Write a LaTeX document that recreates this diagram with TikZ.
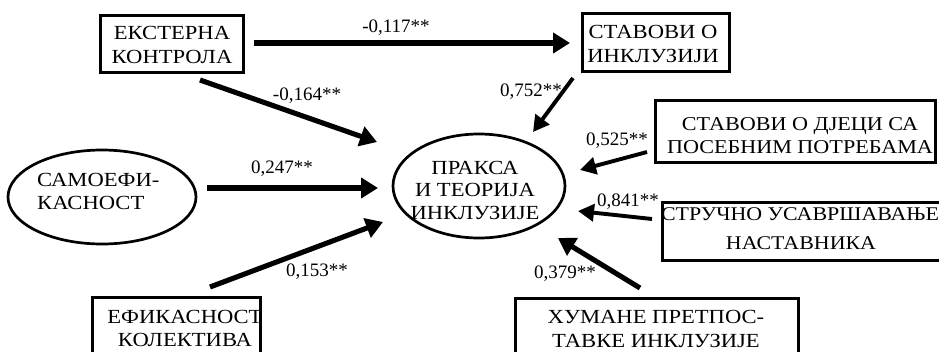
\documentclass[tikz,border=0pt]{standalone}
\usepackage{fontspec}
\setmainfont{Liberation Serif}
\newfontfamily\boxfont[FakeStretch=1.13]{Liberation Serif}
\usetikzlibrary{arrows.meta,shapes.geometric}
\begin{document}
\begin{tikzpicture}[x=1pt,y=-1pt,
  boxst/.style={draw,line width=3pt,inner sep=0pt,minimum width=#1},
  ell/.style={draw,ellipse,line width=2.7pt,inner sep=0pt},
  txt/.style={inner sep=0pt,align=center,font=\boxfont\fontsize{20}{23.5}\selectfont},
  lab/.style={inner sep=0pt,font=\fontsize{19}{22}\selectfont},
  big/.style={line width=5.1pt,-{Triangle[length=17pt,width=20pt]}},
  thin/.style={line width=3.9pt,-{Triangle[length=16pt,width=17pt]}}]
\clip (0,0) rectangle (939,351);
\fill[white] (0,0) rectangle (939,351);
% boxes
\node[boxst=143pt,minimum height=57pt] (ek) at (171.5,43.5) {};
\node[boxst=147pt,minimum height=58pt] (st) at (655.5,42) {};
\node[boxst=280pt,minimum height=62pt] (dj) at (795,131) {};
\node[boxst=288pt,minimum height=58pt] (sr) at (806,231) {};
\node[boxst=283pt,minimum height=68pt] (hu) at (656.5,332) {};
\node[boxst=168pt,minimum height=68pt] (ef) at (176,331) {};
% ellipses
\node[ell,minimum width=188pt,minimum height=94pt] (sa) at (102,197) {};
\node[ell,minimum width=172pt,minimum height=104pt] (pr) at (479,186) {};
% texts
\node[txt] (ekt) at (172,45) {ЕКСТЕРНА\\КОНТРОЛА};
\node[txt] (stt) at (653,44) {СТАВОВИ О\\ИНКЛУЗИЈИ};
\node[txt,font=\boxfont\fontsize{19.6}{23.5}\selectfont] (djt) at (800,135.5) {СТАВОВИ О ДЈЕЦИ СА\\ПОСЕБНИМ ПОТРЕБАМА};
\node[txt,font=\boxfont\fontsize{19.4}{29}\selectfont] (srt) at (800,228.5) {СТРУЧНО УСАВРШАВАЊЕ\\\hspace*{2pt}НАСТАВНИКА};
\node[txt] (hut) at (656,329) {ХУМАНЕ ПРЕТПОС-\\ТАВКЕ ИНКЛУЗИЈЕ};
\node[txt] (eft) at (185,328.5) {ЕФИКАСНОСТ\\КОЛЕКТИВА};
\node[txt,align=left,anchor=west] (sat) at (37,191.5) {САМОЕФИ-\\КАСНОСТ};
\node[txt,font=\boxfont\fontsize{20}{22.5}\selectfont] (prt) at (475,190) {ПРАКСА\\И ТЕОРИЈА\\ИНКЛУЗИЈЕ};
% connector end points
\coordinate (a1) at (254,43);   \coordinate (b1) at (570,43);
\coordinate (a2) at (200,80);   \coordinate (b2) at (377,142);
\coordinate (a3) at (207,188);  \coordinate (b3) at (378,188);
\coordinate (a4) at (210,287);  \coordinate (b4) at (383,222);
\coordinate (a5) at (573,78);   \coordinate (b5) at (533,132);
\coordinate (a6) at (647,152);  \coordinate (b6) at (580,170);
\coordinate (a7) at (652,219);  \coordinate (b7) at (578,211);
\coordinate (a8) at (640,288);  \coordinate (b8) at (558,238);
\draw[big] (a1) -- (b1);
\draw[big] (a2) -- (b2);
\draw[big] (a3) -- (b3);
\draw[big] (a4) -- (b4);
\draw[thin] (a5) -- (b5);
\draw[thin] (a6) -- (b6);
\draw[thin] (a7) -- (b7);
\draw[big] (a8) -- (b8);
% labels
\node[lab] (l1) at (396,28) {-0,117**};
\node[lab] (l2) at (307,96) {-0,164**};
\node[lab] (l3) at (282,169) {0,247**};
\node[lab] (l4) at (317,272) {0,153**};
\node[lab] (l5) at (531,92) {0,752**};
\node[lab] (l6) at (617,141) {0,525**};
\node[lab] (l7) at (628,202) {0,841**};
\node[lab] (l8) at (565,274) {0,379**};
\end{tikzpicture}
\end{document}
